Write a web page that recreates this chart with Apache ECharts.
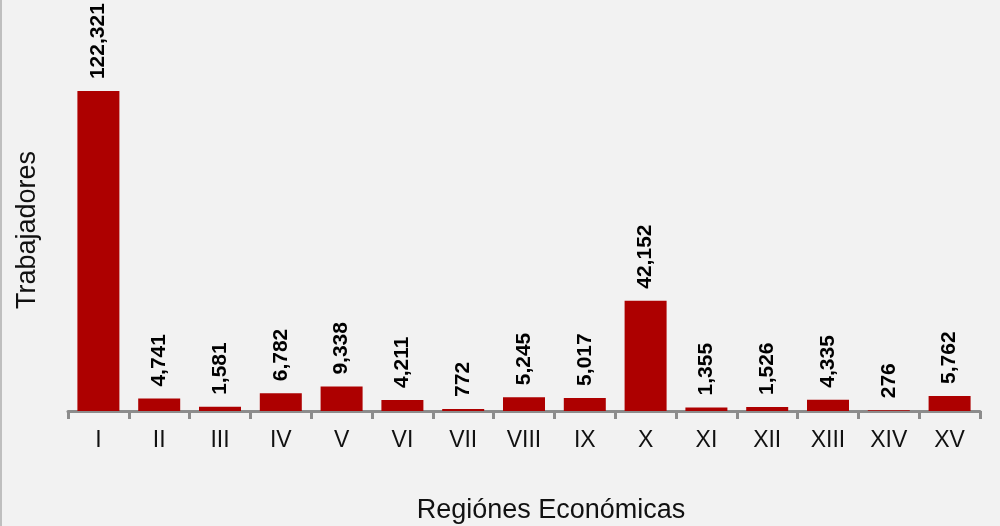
<!DOCTYPE html>
<html>
<head>
<meta charset="utf-8">
<script src="https://cdn.jsdelivr.net/npm/echarts@6/dist/echarts.min.js"></script>
<style>
  html, body { margin: 0; padding: 0; background: #f2f2f2; }
  #chart { width: 1000px; height: 526px; }
</style>
</head>
<body>
<div id="chart"></div>
<script>
// regiones y número de trabajadores
const regiones = ['I', 'II', 'III', 'IV', 'V', 'VI', 'VII', 'VIII', 'IX', 'X', 'XI', 'XII', 'XIII', 'XIV', 'XV'];
const trabajadores = [122321, 4741, 1581, 6782, 9338, 4211, 772, 5245, 5017, 42152, 1355, 1526, 4335, 276, 5762];

const chart = echarts.init(document.getElementById('chart'));

const option = {
    backgroundColor: '#f2f2f2',
    animation: false,
    grid: { left: 68, right: 20, top: 49, bottom: 115, outerBoundsMode: 'none' },
    graphic: [{
        type: 'line',
        shape: { x1: 1, y1: 0, x2: 1, y2: 526 },
        style: { stroke: '#bfbfbf', lineWidth: 2 }
    }],
    xAxis: {
        type: 'category',
        data: regiones,
        name: 'Regiónes Económicas',
        nameLocation: 'middle',
        nameGap: 86,
        nameTextStyle: { fontFamily: 'Liberation Sans', fontSize: 27, color: '#111', padding: [0, 0, 0, 54] },
        axisLine: { lineStyle: { color: '#8c8c8c', width: 3 } },
        axisTick: { show: true, length: 8, lineStyle: { color: '#8c8c8c', width: 3 } },
        axisLabel: { fontFamily: 'Liberation Sans', fontSize: 23, color: '#111', margin: 18 }
    },
    yAxis: {
        type: 'value',
        min: 0,
        max: 138400,
        name: 'Trabajadores',
        nameLocation: 'middle',
        nameGap: 27,
        nameTextStyle: { fontFamily: 'Liberation Sans', fontSize: 27, color: '#111' },
        axisLine: { show: false },
        axisTick: { show: false },
        axisLabel: { show: false },
        splitLine: { show: false }
    },
    series: [{
        type: 'bar',
        data: trabajadores,
        barWidth: 42,
        itemStyle: { color: '#ad0000' },
        label: {
            show: true,
            position: 'top',
            rotate: 90,
            align: 'left',
            verticalAlign: 'middle',
            distance: 12,
            fontFamily: 'Liberation Sans',
            fontWeight: 'bold',
            fontSize: 21,
            color: '#000',
            formatter: p => p.value.toLocaleString('en-US')
        }
    }]
};

chart.setOption(option);
</script>
</body>
</html>
